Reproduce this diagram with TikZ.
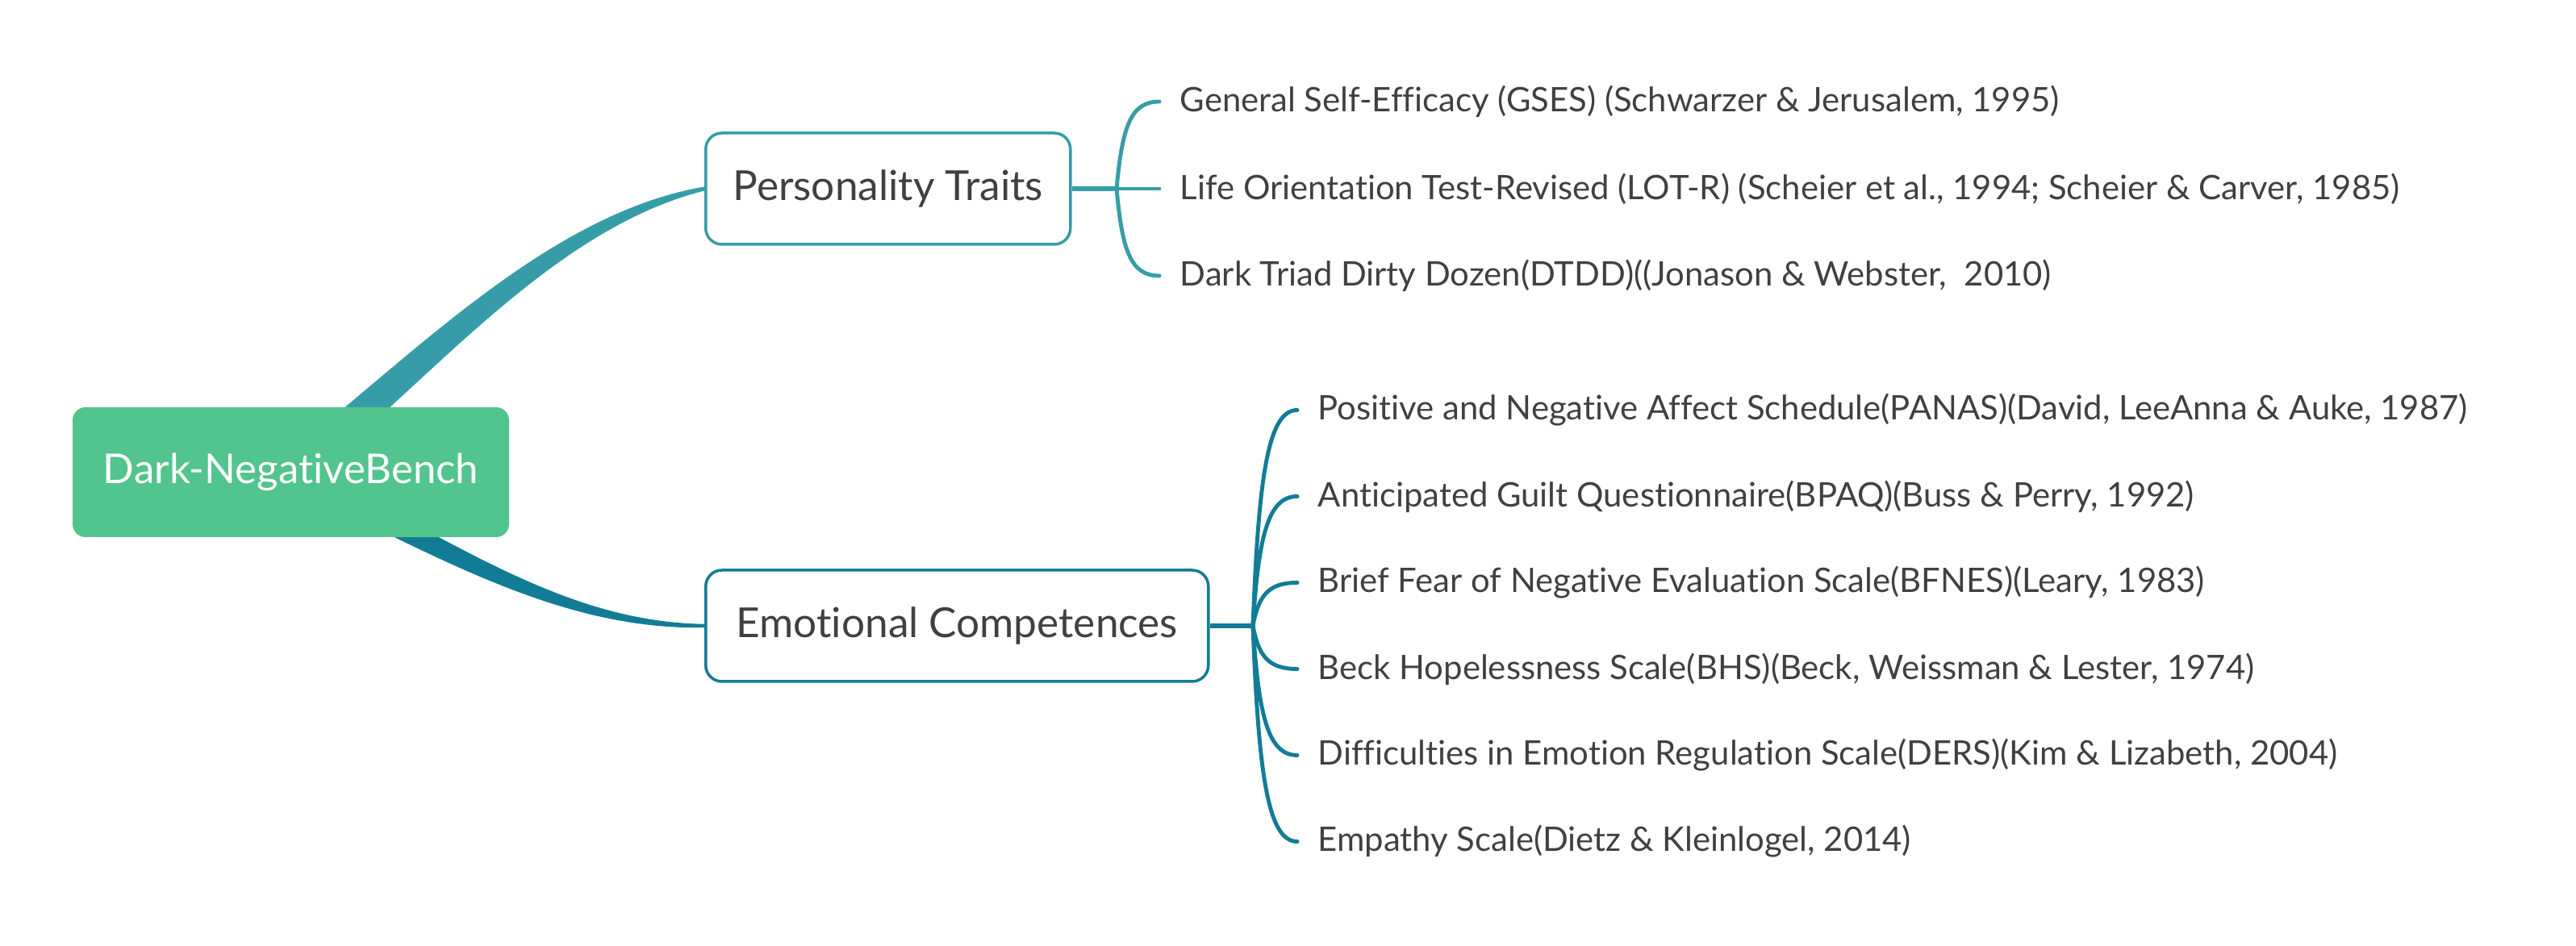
\documentclass[tikz,border=0pt]{standalone}
\usepackage{fontspec}
\setmainfont{Lato}[Ligatures={NoCommon}]
\usepackage{xcolor}

\definecolor{rootgreen}{RGB}{82,196,141}
\definecolor{ptteal}{RGB}{54,157,168}
\definecolor{ecblue}{RGB}{18,124,150}
\definecolor{txtgray}{RGB}{64,64,64}

\pgfdeclarelayer{bg}
\pgfsetlayers{bg,main}

\tikzset{
  rootbox/.style={fill=rootgreen, rounded corners=0.16cm, text=white, font=\fontsize{14.5}{17}\selectfont, minimum width=5.41cm, minimum height=1.61cm},
  branchbox/.style={draw=#1, line width=1pt, fill=white, rounded corners=0.2cm, text=txtgray, font=\fontsize{14.6}{17}\selectfont, minimum height=1.38cm, anchor=west},
  leaf/.style={anchor=west, inner xsep=0.25cm, inner ysep=0pt, text=txtgray, font=\fontsize{11.9}{14}\selectfont},
  stem/.style={draw=#1, line width=1.7pt},
  twig/.style={draw=#1, line width=1.4pt, line cap=round},
}

\begin{document}
\begin{tikzpicture}
        \useasboundingbox (0,0) rectangle (31.93,11.73);
        \node[rootbox] (root) at (3.605,5.875) {Dark-NegativeBench};
        \node[branchbox=ptteal, minimum width=4.52cm] (pt) at (8.73,9.39) {Personality Traits};
        \node[branchbox=ecblue, minimum width=6.23cm] (ec) at (8.73,3.97) {Emotional Competences};
        \coordinate (ptfork) at (13.84,9.39);
        \coordinate (ecfork) at (15.53,3.97);
        % Personality Traits scales
        \node[leaf] (p1) at (14.37,10.47) {General Self-Efficacy (GSES) (Schwarzer \& Jerusalem, 1995)};
        \node[leaf] (p2) at (14.37,9.39) {Life Orientation Test-Revised (LOT-R) (Scheier et al., 1994; Scheier \& Carver, 1985)};
        \node[leaf] (p3) at (14.37,8.31) {Dark Triad Dirty Dozen(DTDD)((Jonason \& Webster,\ \ 2010)};
        % Emotional Competences scales
        \node[leaf] (e1) at (16.08,6.645) {Positive and Negative Affect Schedule(PANAS)(David, LeeAnna \& Auke, 1987)};
        \node[leaf] (e2) at (16.08,5.575) {Anticipated Guilt Questionnaire(BPAQ)(Buss \& Perry, 1992)};
        \node[leaf] (e3) at (16.08,4.505) {Brief Fear of Negative Evaluation Scale(BFNES)(Leary, 1983)};
        \node[leaf] (e4) at (16.08,3.435) {Beck Hopelessness Scale(BHS)(Beck, Weissman \& Lester, 1974)};
        \node[leaf] (e5) at (16.08,2.365) {Difficulties in Emotion Regulation Scale(DERS)(Kim \& Lizabeth, 2004)};
        \node[leaf] (e6) at (16.08,1.295) {Empathy Scale(Dietz \& Kleinlogel, 2014)};
        \begin{pgfonlayer}{bg}
        \fill[white] (0,0) rectangle (31.93,11.73);
        % tapered main branches
        \fill[ptteal] ([shift={(-0.124,0.157)}]root.center) .. controls ([shift={(1.482,1.409)}]root.center) and ([shift={(-1.951,-0.312)}]pt.west) .. ([shift={(0,0.025)}]pt.west)
            -- ([shift={(0,-0.025)}]pt.west) .. controls ([shift={(-1.909,-0.508)}]pt.west) and ([shift={(1.718,1.111)}]root.center) .. ([shift={(0.124,-0.157)}]root.center) -- cycle;
        \fill[ecblue] ([shift={(0.067,0.134)}]root.center) .. controls ([shift={(2.063,-0.875)}]root.center) and ([shift={(-1.73,0.05)}]ec.west) .. ([shift={(0,0.022)}]ec.west)
            -- ([shift={(0,-0.022)}]ec.west) .. controls ([shift={(-1.73,-0.05)}]ec.west) and ([shift={(1.937,-1.125)}]root.center) .. ([shift={(-0.067,-0.134)}]root.center) -- cycle;
        \end{pgfonlayer}
        \draw[stem=ptteal] (pt.east) -- (ptfork);
        \draw[twig=ptteal] (ptfork) .. controls +(0.07,0.76) and +(-0.36,0) .. (p1.west);
        \draw[twig=ptteal] (ptfork) -- (p2.west);
        \draw[twig=ptteal] (ptfork) .. controls +(0.07,-0.76) and +(-0.36,0) .. (p3.west);
        \draw[stem=ecblue] (ec.east) -- (ecfork);
        \foreach \n/\dy in {e1/2.675,e2/1.605,e3/0.535,e4/-0.535,e5/-1.605,e6/-2.675}
            \draw[twig=ecblue] (ecfork) .. controls +(0.07,{0.7*\dy}) and +(-0.36,0) .. (\n.west);
    \end{tikzpicture}
\end{document}
